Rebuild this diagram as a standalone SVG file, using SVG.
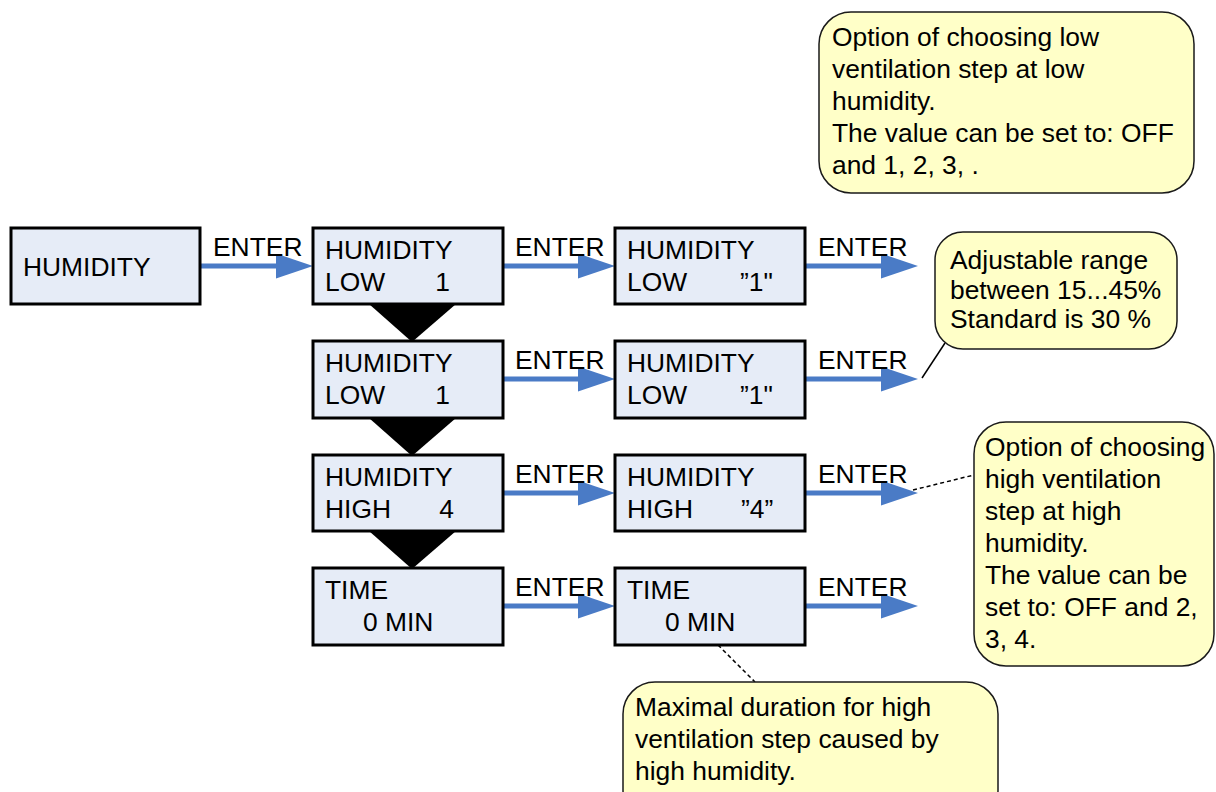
<svg xmlns="http://www.w3.org/2000/svg" width="1216" height="792" viewBox="0 0 1216 792">
<defs>
<style>
.box{fill:#E6ECF7;stroke:#000;stroke-width:3}
.t{font-family:"Liberation Sans",Arial,sans-serif;font-size:26.4px;fill:#000}
.note{fill:#FFFFC8;stroke:#1a1a1a;stroke-width:1.5}
.arr{stroke:#4A7BC6;stroke-width:5;fill:none;stroke-linecap:round}
.dn{fill:#000}
.lead{stroke:#000;stroke-width:1.5;fill:none}
.dash{stroke:#000;stroke-width:1.5;fill:none;stroke-dasharray:4 3}
</style>
<marker id="ah" markerUnits="userSpaceOnUse" markerWidth="38" markerHeight="26" refX="7" refY="12.5" orient="auto">
<path d="M0,0 L37,12.5 L0,25 z" fill="#4A7BC6"/>
</marker>
</defs>
<rect width="1216" height="792" fill="#fff"/>

<g id="connectors">
<polygon class="dn" points="369,304 456,304 412,342"/>
<polygon class="dn" points="369,418 456,418 412,456"/>
<polygon class="dn" points="369,531 456,531 412,569"/>
<line class="arr" x1="200" y1="266" x2="283" y2="266" marker-end="url(#ah)"/>
<line class="arr" x1="503" y1="266" x2="585" y2="266" marker-end="url(#ah)"/>
<line class="arr" x1="805" y1="266" x2="888" y2="266" marker-end="url(#ah)"/>
<line class="arr" x1="503" y1="379" x2="585" y2="379" marker-end="url(#ah)"/>
<line class="arr" x1="805" y1="379" x2="888" y2="379" marker-end="url(#ah)"/>
<line class="arr" x1="503" y1="493" x2="585" y2="493" marker-end="url(#ah)"/>
<line class="arr" x1="805" y1="493" x2="888" y2="493" marker-end="url(#ah)"/>
<line class="arr" x1="503" y1="606" x2="585" y2="606" marker-end="url(#ah)"/>
<line class="arr" x1="805" y1="606" x2="888" y2="606" marker-end="url(#ah)"/>
<text class="t" x="213" y="256">ENTER</text>
<text class="t" x="515" y="256">ENTER</text>
<text class="t" x="818" y="256">ENTER</text>
<text class="t" x="515" y="369">ENTER</text>
<text class="t" x="818" y="369">ENTER</text>
<text class="t" x="515" y="483">ENTER</text>
<text class="t" x="818" y="483">ENTER</text>
<text class="t" x="515" y="596">ENTER</text>
<text class="t" x="818" y="596">ENTER</text>
<line class="lead" x1="922" y1="378" x2="945" y2="343"/>
<line class="dash" x1="913" y1="490" x2="974" y2="475"/>
<line class="dash" x1="718" y1="645" x2="755" y2="682"/>
</g>

<g id="humidity">
<rect class="box" x="11" y="228" width="189" height="76"/>
<text class="t" x="23" y="276">HUMIDITY</text>
</g>
<g id="low1">
<rect class="box" x="313" y="228" width="190" height="76"/>
<text class="t" x="325" y="259">HUMIDITY</text>
<text class="t" x="325" y="291">LOW</text>
<text class="t" x="450" y="291" text-anchor="end">1</text>
</g>
<g id="low1-set">
<rect class="box" x="615" y="228" width="190" height="76"/>
<text class="t" x="627" y="259">HUMIDITY</text>
<text class="t" x="627" y="291">LOW</text>
<text class="t" x="740" y="291">”1"</text>
</g>
<g id="low2">
<rect class="box" x="313" y="341" width="190" height="77"/>
<text class="t" x="325" y="372">HUMIDITY</text>
<text class="t" x="325" y="404">LOW</text>
<text class="t" x="450" y="404" text-anchor="end">1</text>
</g>
<g id="low2-set">
<rect class="box" x="615" y="341" width="190" height="77"/>
<text class="t" x="627" y="372">HUMIDITY</text>
<text class="t" x="627" y="404">LOW</text>
<text class="t" x="740" y="404">”1"</text>
</g>
<g id="high">
<rect class="box" x="313" y="455" width="190" height="76"/>
<text class="t" x="325" y="486">HUMIDITY</text>
<text class="t" x="325" y="518">HIGH</text>
<text class="t" x="454" y="518" text-anchor="end">4</text>
</g>
<g id="high-set">
<rect class="box" x="615" y="455" width="190" height="76"/>
<text class="t" x="627" y="486">HUMIDITY</text>
<text class="t" x="627" y="518">HIGH</text>
<text class="t" x="741" y="518">”4”</text>
</g>
<g id="time">
<rect class="box" x="313" y="568" width="190" height="77"/>
<text class="t" x="325" y="599">TIME</text>
<text class="t" x="363" y="631">0 MIN</text>
</g>
<g id="time-set">
<rect class="box" x="615" y="568" width="190" height="77"/>
<text class="t" x="627" y="599">TIME</text>
<text class="t" x="665" y="631">0 MIN</text>
</g>

<g id="note-low">
<rect class="note" x="819" y="12" width="375" height="181" rx="32"/>
<text class="t" x="832" y="46">Option of choosing low</text>
<text class="t" x="832" y="78">ventilation step at low</text>
<text class="t" x="832" y="110">humidity.</text>
<text class="t" x="832" y="142">The value can be set to: OFF</text>
<text class="t" x="832" y="174">and 1, 2, 3, .</text>
</g>
<g id="note-range">
<rect class="note" x="935" y="232" width="242" height="117" rx="28"/>
<text class="t" x="950" y="269">Adjustable range</text>
<text class="t" x="950" y="299">between 15...45%</text>
<text class="t" x="950" y="328">Standard is 30 %</text>
</g>
<g id="note-high">
<rect class="note" x="974" y="422" width="240" height="244" rx="32"/>
<text class="t" x="985" y="456">Option of choosing</text>
<text class="t" x="985" y="488">high ventilation</text>
<text class="t" x="985" y="520">step at high</text>
<text class="t" x="985" y="552">humidity.</text>
<text class="t" x="985" y="584">The value can be</text>
<text class="t" x="985" y="616">set to: OFF and 2,</text>
<text class="t" x="985" y="648">3, 4.</text>
</g>
<g id="note-time">
<rect class="note" x="623" y="682" width="375" height="140" rx="32"/>
<text class="t" x="635" y="716">Maximal duration for high</text>
<text class="t" x="635" y="748">ventilation step caused by</text>
<text class="t" x="635" y="780">high humidity.</text>
</g>
</svg>
